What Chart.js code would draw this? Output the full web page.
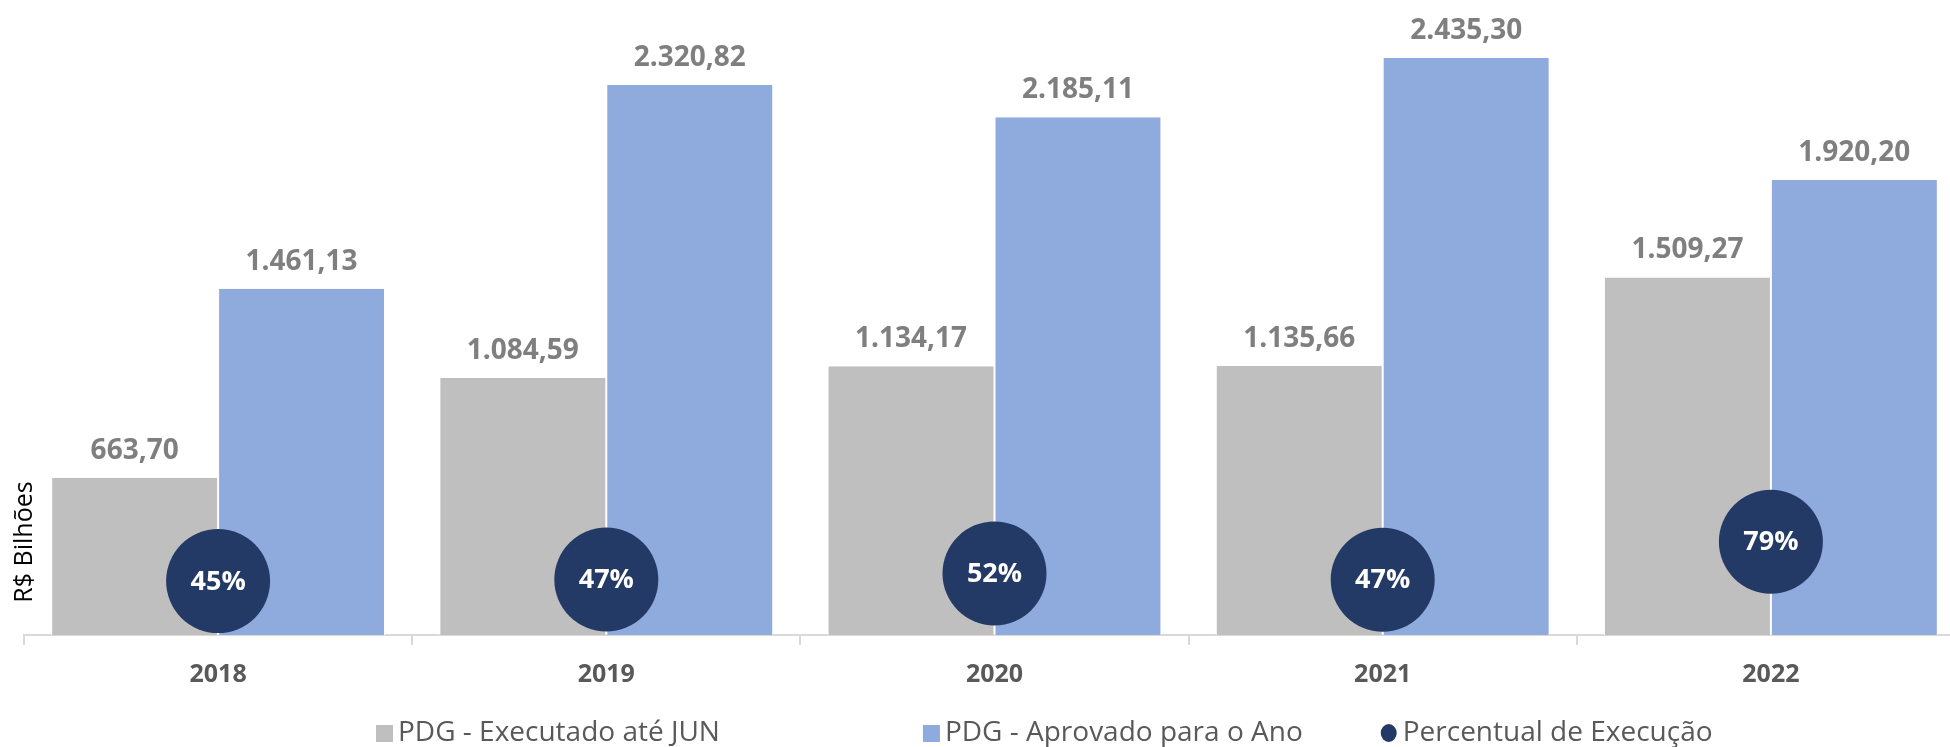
<!DOCTYPE html>
<html lang="pt-BR">
<head>
<meta charset="utf-8">
<title>PDG - Executado x Aprovado</title>
<script src="https://cdn.jsdelivr.net/npm/chart.js@4/dist/chart.umd.min.js"></script>
<style>
    html, body { margin: 0; padding: 0; background: #fff; overflow: hidden; }
    #wrap { position: relative; width: 1968px; height: 747px; }
    canvas { display: block; }
</style>
</head>
<body>
<div id="wrap"><canvas id="pdgChart"></canvas></div>
<script>
// Dados
const years = ['2018', '2019', '2020', '2021', '2022'];
const executado = [663.70, 1084.59, 1134.17, 1135.66, 1509.27];
const aprovado = [1461.13, 2320.82, 2185.11, 2435.30, 1920.20];
const percentual = [45.4, 46.7, 51.9, 46.6, 78.6];
const percentualLabels = ['45%', '47%', '52%', '47%', '79%'];

const FONT = '"Open Sans", "DejaVu Sans", sans-serif';
const GRAY = '#bfbfbf';
const BLUE = '#8faadc';
const NAVY = '#243a66';

// "1461.13" -> "1.461,13"
function fmtBR(v) {
    const parts = v.toFixed(2).split('.');
    return parts[0].replace(/\B(?=(\d{3})+(?!\d))/g, '.') + ',' + parts[1];
}

// Rótulos de valor acima das barras
const valueLabels = {
    id: 'valueLabels',
    afterDatasetsDraw(chart) {
        const ctx = chart.ctx;
        ctx.save();
        ctx.font = 'bold 28px ' + FONT;
        ctx.fillStyle = '#7f7f7f';
        ctx.textAlign = 'center';
        ctx.textBaseline = 'alphabetic';
        chart.data.datasets.forEach((ds, i) => {
            if (ds.type === 'line') return;
            chart.getDatasetMeta(i).data.forEach((bar, j) => {
                ctx.fillText(fmtBR(ds.data[j]), bar.x, bar.y - 19);
            });
        });
        ctx.restore();
    }
};

// Texto dentro dos círculos
const pctText = {
    id: 'pctText',
    afterDatasetsDraw(chart) {
        const ctx = chart.ctx;
        const meta = chart.getDatasetMeta(2);
        ctx.save();
        ctx.font = 'bold 27px ' + FONT;
        ctx.fillStyle = '#ffffff';
        ctx.textAlign = 'center';
        ctx.textBaseline = 'middle';
        meta.data.forEach((pt, j) => {
            ctx.fillText(percentualLabels[j], pt.x, pt.y + 1);
        });
        ctx.restore();
    }
};

// Título do eixo Y e legenda
const extras = {
    id: 'extras',
    afterDraw(chart) {
        const ctx = chart.ctx;
        ctx.save();
        ctx.translate(25, 542);
        ctx.rotate(-Math.PI / 2);
        ctx.font = '25px ' + FONT;
        ctx.fillStyle = '#000';
        ctx.textAlign = 'center';
        ctx.textBaseline = 'middle';
        ctx.fillText('R$ Bilhões', 0, 0);
        ctx.restore();

        // legenda
        ctx.save();
        ctx.font = '28px ' + FONT;
        ctx.textBaseline = 'middle';
        ctx.textAlign = 'left';
        const gaps = [203, 78];
        const cy = 733;
        let x = 376;
        chart.data.datasets.forEach((ds, i) => {
            ctx.fillStyle = ds.type === 'line' ? ds.pointBackgroundColor : ds.backgroundColor;
            if (ds.type === 'line') {
                ctx.beginPath();
                ctx.ellipse(x + 8, cy, 8, 9, 0, 0, Math.PI * 2);
                ctx.fill();
            } else {
                ctx.fillRect(x, cy - 8, 17, 17);
            }
            x += 22;
            ctx.fillStyle = '#595959';
            ctx.fillText(ds.label, x, cy);
            x += ctx.measureText(ds.label).width + (gaps[i] || 0);
        });
        ctx.restore();
    }
};

const ctx = document.getElementById('pdgChart').getContext('2d');
new Chart(ctx, {
    data: {
        labels: years,
        datasets: [
            {
                type: 'bar',
                label: 'PDG - Executado até JUN',
                data: executado,
                backgroundColor: GRAY,
                borderColor: '#ffffff',
                borderWidth: { left: 1, right: 1, top: 0, bottom: 0 },
                yAxisID: 'y',
                order: 1
            },
            {
                type: 'bar',
                label: 'PDG - Aprovado para o Ano',
                data: aprovado,
                backgroundColor: BLUE,
                borderColor: '#ffffff',
                borderWidth: { left: 1, right: 1, top: 0, bottom: 0 },
                yAxisID: 'y',
                order: 2
            },
            {
                type: 'line',
                label: 'Percentual de Execução',
                data: percentual,
                showLine: false,
                clip: false,
                pointRadius: 52,
                pointBackgroundColor: NAVY,
                pointBorderColor: NAVY,
                pointBorderWidth: 0,
                yAxisID: 'y2',
                order: 0
            }
        ]
    },
    options: {
        responsive: true,
        maintainAspectRatio: false,
        animation: false,
        events: [],
        layout: {
            autoPadding: false,
            padding: { left: 24, right: 3, top: 0, bottom: 42 }
        },
        datasets: {
            bar: { categoryPercentage: 0.86, barPercentage: 1.0 }
        },
        scales: {
            x: {
                offset: true,
                grid: {
                    offset: true,
                    drawOnChartArea: false,
                    drawTicks: true,
                    tickLength: 10,
                    color: '#d9d9d9',
                    lineWidth: 2
                },
                border: { color: '#d9d9d9', width: 2 },
                ticks: {
                    color: '#595959',
                    padding: 15,
                    font: { family: FONT, size: 25, weight: 'bold' }
                }
            },
            y: { display: false, min: 0, max: 2680 },
            y2: { display: false, min: 0, max: 535 }
        },
        plugins: {
            legend: { display: false },
            tooltip: { enabled: false }
        }
    },
    plugins: [valueLabels, pctText, extras]
});
</script>
</body>
</html>
